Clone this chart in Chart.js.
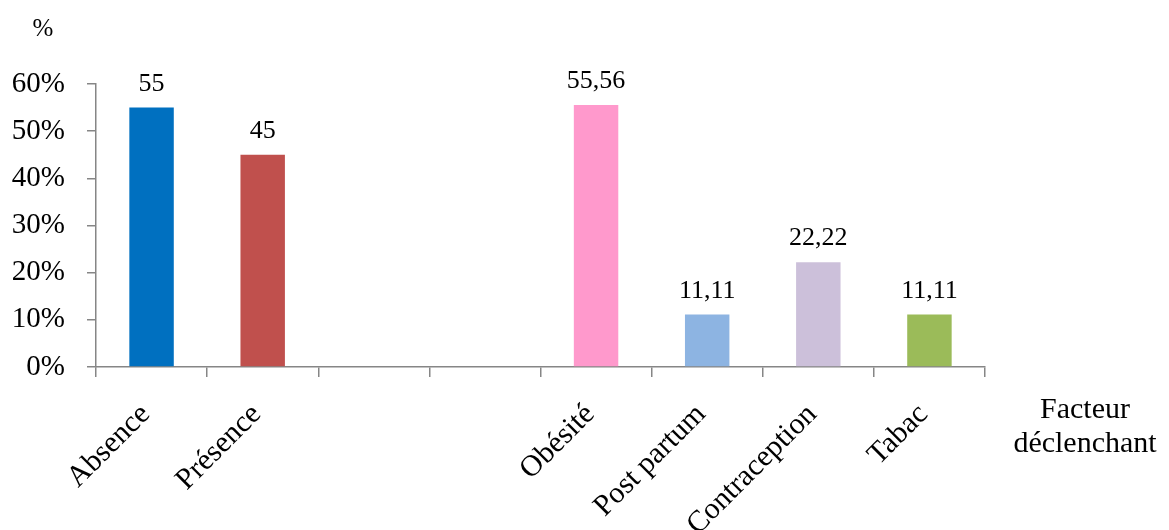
<!DOCTYPE html>
<html lang="fr">
<head>
<meta charset="utf-8">
<title>Facteur déclenchant</title>
<script src="https://cdn.jsdelivr.net/npm/chart.js@4"></script>
<style>
  html, body { margin: 0; padding: 0; background: #fff; }
  #wrap { width: 1169px; height: 530px; position: relative; }
</style>
</head>
<body>
<div id="wrap"><canvas id="chart" width="1169" height="530"></canvas></div>
<script>
"use strict";

// two empty slots separate the two groups of factors
const categories = ["Absence", "Présence", "", "", "Obésité", "Post partum", "Contraception", "Tabac"];
const values = [55, 45, null, null, 55.56, 11.11, 22.22, 11.11];
const valueLabels = ["55", "45", "", "", "55,56", "11,11", "22,22", "11,11"];
const barColors = ["#0070C0", "#C0504D", "#ffffff", "#ffffff", "#FF99CC", "#8DB4E2", "#CCC0DA", "#9BBB59"];
const yTicks = [0, 10, 20, 30, 40, 50, 60];

const AXIS = "#868686";
const FONT = "'Liberation Serif', 'Times New Roman', serif";

/* ---------------- PLUGINS ---------------- */

// value above each bar
const barLabels = {
  id: "barLabels",
  afterDatasetsDraw(chart) {
    const { ctx } = chart;
    const meta = chart.getDatasetMeta(0);
    ctx.save();
    ctx.fillStyle = "#000";
    ctx.font = "26px " + FONT;
    ctx.textAlign = "center";
    ctx.textBaseline = "alphabetic";
    meta.data.forEach((bar, i) => {
      if (values[i] === null) return;
      ctx.fillText(valueLabels[i], bar.x, bar.y - 17);
    });
    ctx.restore();
  },
};

// "%" above the y axis and the axis name at the right end
const axisNames = {
  id: "axisNames",
  afterDraw(chart) {
    const { ctx } = chart;
    ctx.save();
    ctx.fillStyle = "#000";
    ctx.textAlign = "center";
    ctx.textBaseline = "alphabetic";
    ctx.font = "25px " + FONT;
    ctx.fillText("%", 43, 36);
    ctx.font = "30px " + FONT;
    ctx.fillText("Facteur", 1085, 418);
    ctx.fillText("déclenchant", 1085, 452);
    ctx.restore();
  },
};

/* ---------------- CHART ---------------- */

const pad = { left: 0, right: 184, top: 84, bottom: 0 };

new Chart(document.getElementById("chart"), {
  type: "bar",
  data: {
    labels: categories,
    datasets: [{
      data: values,
      backgroundColor: barColors,
      barPercentage: 0.4,
      categoryPercentage: 1.0,
    }],
  },
  options: {
    responsive: false,
    animation: false,
    layout: { padding: pad },
    plugins: {
      legend: { display: false },
      tooltip: { enabled: false },
    },
    scales: {
      x: {
        afterFit(scale) { scale.height = 530 - 367 - pad.bottom; },
        border: { color: AXIS, width: 1.5 },
        grid: {
          offset: true,
          drawOnChartArea: false,
          drawTicks: true,
          tickLength: 10,
          color: AXIS,
          lineWidth: 1.5,
        },
        ticks: {
          color: "#000",
          font: { family: FONT, size: 30 },
          minRotation: 45,
          maxRotation: 45,
          autoSkip: false,
          padding: 20,
          labelOffset: -6,
        },
      },
      y: {
        min: 0,
        max: 60,
        afterFit(scale) { scale.width = 96 - pad.left; },
        afterBuildTicks(scale) { scale.ticks = yTicks.map(v => ({ value: v })); },
        border: { color: AXIS, width: 1.5 },
        grid: {
          drawOnChartArea: false,
          drawTicks: true,
          tickLength: 9,
          color: AXIS,
          lineWidth: 1.5,
        },
        ticks: {
          color: "#000",
          font: { family: FONT, size: 29 },
          padding: 22,
          callback: v => v + "%",
        },
      },
    },
  },
  plugins: [barLabels, axisNames],
});
</script>
</body>
</html>
